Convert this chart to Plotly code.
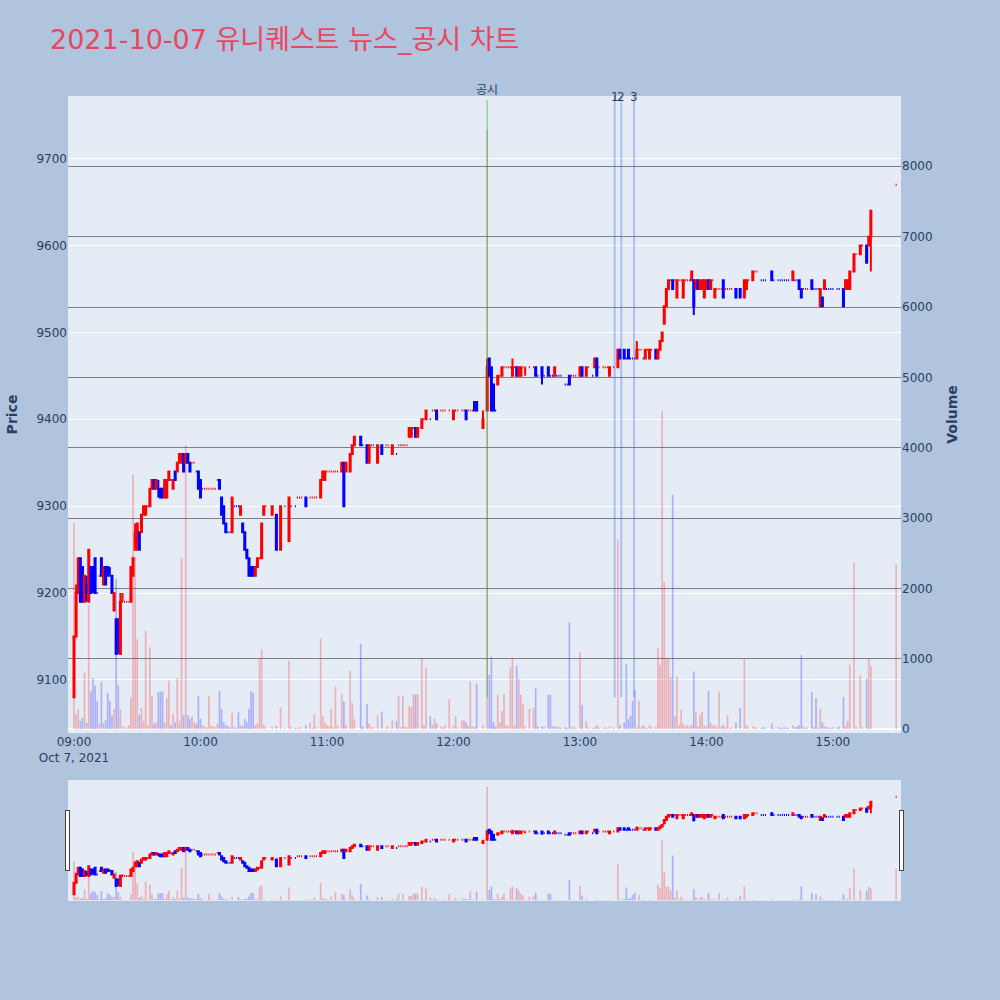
import plotly.graph_objects as go
from plotly.subplots import make_subplots

DATE = "2021-10-07"
TITLE = "2021-10-07 유니퀘스트 뉴스_공시 차트"

# ---------------- 1-minute candles ----------------
times = [
    # 09h
    "09:00","09:01","09:02","09:03","09:04","09:05","09:06","09:07","09:08","09:09",
    "09:10","09:11","09:12","09:13","09:14","09:15","09:16","09:17","09:18","09:19",
    "09:20","09:21","09:22","09:23","09:24","09:25","09:26","09:27","09:28","09:29",
    "09:30","09:31","09:32","09:33","09:34","09:35","09:36","09:37","09:38","09:39",
    "09:40","09:41","09:42","09:43","09:44","09:45","09:46","09:47","09:48","09:49",
    "09:50","09:51","09:52","09:53","09:54","09:55","09:56","09:57","09:58","09:59",
    # 10h
    "10:00","10:01","10:02","10:03","10:04","10:05","10:06","10:07","10:08","10:09",
    "10:10","10:11","10:12","10:13","10:14","10:15","10:16","10:17","10:18","10:19",
    "10:20","10:21","10:22","10:23","10:24","10:25","10:26","10:27","10:28","10:29",
    "10:30","10:31",
    "10:34","10:36","10:38","10:40","10:42","10:43","10:45","10:46","10:47","10:48",
    "10:50","10:52","10:53","10:54","10:55","10:57","10:58","10:59",
    # 11h
    "11:00","11:01","11:02","11:03","11:04","11:05","11:07","11:08","11:09","11:11",
    "11:12","11:13","11:16","11:17","11:19","11:20","11:21","11:22","11:24","11:26",
    "11:28","11:29","11:31","11:33","11:34","11:35","11:36","11:37","11:38","11:39",
    "11:40","11:41","11:42","11:43","11:45","11:46","11:47","11:49","11:50","11:51",
    "11:52","11:54","11:55","11:56","11:58",
    # 12h
    "12:00","12:01","12:02","12:04","12:05","12:06","12:07","12:08","12:09","12:10",
    "12:11","12:14","12:16","12:17","12:18","12:19","12:20","12:21","12:22","12:23",
    "12:24","12:25","12:26","12:27","12:28","12:29","12:30","12:31","12:32","12:33",
    "12:34","12:36","12:38","12:39","12:40","12:42","12:43","12:45","12:46","12:47",
    "12:48","12:49","12:50","12:51","12:53","12:54","12:55","12:56","12:57","12:58",
    # 13h
    "13:00","13:01","13:03","13:04","13:06","13:07","13:08","13:09","13:11","13:12",
    "13:13","13:14","13:16","13:18","13:19","13:21","13:22","13:23","13:24","13:25",
    "13:26","13:27","13:28","13:29","13:30","13:31","13:32","13:33","13:34","13:36",
    "13:37","13:38","13:39","13:40","13:41","13:42","13:43","13:44","13:45","13:46",
    "13:47","13:48","13:49","13:50","13:51","13:52","13:53","13:54","13:55","13:56",
    "13:57","13:58","13:59",
    # 14h
    "14:00","14:01","14:02","14:03","14:04","14:05","14:06","14:07","14:08","14:09",
    "14:10","14:11","14:12","14:14","14:16","14:18","14:19","14:20","14:22","14:23",
    "14:24","14:26","14:27","14:28","14:31","14:32","14:34","14:35","14:36","14:37",
    "14:38","14:39","14:41","14:42","14:43","14:44","14:45","14:46","14:47","14:48",
    "14:50","14:51","14:52","14:53","14:54","14:55","14:56","14:57","14:58","14:59",
    # 15h
    "15:00","15:02","15:03","15:05","15:06","15:07","15:08","15:10","15:11","15:13",
    "15:14","15:16","15:17","15:18","15:30",
]

opens = [
    # 09h
    9080,9150,9200,9240,9230,9190,9210,9190,9230,9230,
    9240,9200,9220,9240,9210,9230,9230,9220,9220,9180,
    9170,9170,9130,9190,9190,9190,9190,9190,9220,9250,
    9250,9270,9270,9290,9290,9300,9300,9320,9330,9320,
    9320,9320,9320,9310,9310,9330,9330,9320,9340,9340,
    9350,9350,9360,9350,9360,9350,9350,9350,9340,9340,
    # 10h
    9330,9320,9320,9320,9320,9320,9320,9320,9330,9330,
    9310,9300,9280,9270,9270,9270,9300,9300,9300,9290,
    9280,9270,9250,9240,9230,9230,9220,9230,9240,9240,
    9290,9300,
    9290,9290,9250,9300,9260,9300,9300,9310,9310,9310,
    9310,9310,9310,9310,9310,9310,9330,9330,
    # 11h
    9340,9340,9340,9340,9340,9340,9340,9350,9340,9340,
    9360,9370,9380,9370,9370,9350,9370,9370,9350,9370,
    9370,9370,9360,9360,9370,9370,9370,9370,9370,9380,
    9380,9390,9390,9380,9390,9400,9400,9400,9410,9410,
    9410,9410,9410,9410,9410,
    # 12h
    9400,9410,9410,9410,9410,9410,9410,9410,9410,9420,
    9420,9390,9410,9470,9460,9440,9410,9440,9450,9450,
    9460,9460,9460,9460,9450,9460,9460,9450,9450,9460,
    9460,9460,9460,9460,9450,9460,9450,9460,9450,9450,
    9450,9450,9450,9450,9440,9440,9450,9450,9450,9450,
    # 13h
    9450,9460,9450,9460,9450,9460,9470,9460,9460,9460,
    9460,9450,9460,9460,9480,9480,9470,9480,9470,9470,
    9470,9470,9480,9480,9470,9470,9480,9470,9480,9480,
    9470,9480,9490,9510,9530,9550,9560,9560,9560,9540,
    9560,9560,9540,9560,9560,9560,9560,9560,9550,9560,
    9550,9550,9540,
    # 14h
    9550,9560,9550,9560,9540,9550,9550,9550,9560,9550,
    9550,9550,9550,9550,9550,9540,9550,9560,9560,9570,
    9570,9560,9560,9560,9570,9560,9560,9560,9560,9560,
    9560,9560,9560,9560,9560,9560,9550,9550,9550,9550,
    9560,9550,9550,9550,9530,9540,9550,9550,9550,9550,
    # 15h
    9550,9550,9550,9550,9550,9550,9550,9570,9590,9590,
    9600,9600,9600,9610,9670,
]

highs = [
    # 09h
    9150,9210,9240,9240,9230,9220,9220,9250,9230,9230,
    9240,9200,9220,9240,9230,9230,9230,9230,9220,9200,
    9170,9170,9200,9200,9190,9190,9190,9230,9240,9280,
    9280,9270,9290,9300,9300,9300,9320,9330,9330,9330,
    9330,9320,9320,9330,9330,9340,9330,9330,9340,9350,
    9360,9360,9360,9360,9360,9350,9350,9350,9340,9340,
    # 10h
    9330,9320,9320,9320,9320,9320,9320,9320,9330,9330,
    9310,9300,9280,9270,9270,9310,9300,9300,9300,9300,
    9280,9270,9250,9240,9230,9230,9230,9240,9240,9280,
    9300,9300,
    9300,9290,9300,9300,9310,9300,9300,9310,9310,9310,
    9310,9310,9310,9310,9310,9330,9340,9340,
    # 11h
    9340,9340,9340,9340,9340,9340,9350,9350,9350,9360,
    9370,9380,9380,9370,9370,9370,9370,9370,9370,9370,
    9370,9370,9370,9360,9370,9370,9370,9370,9370,9390,
    9390,9390,9390,9390,9400,9400,9410,9400,9410,9410,
    9410,9410,9410,9410,9410,
    # 12h
    9410,9410,9410,9410,9410,9410,9410,9410,9410,9420,
    9420,9410,9470,9470,9460,9440,9410,9450,9450,9460,
    9460,9460,9460,9460,9470,9460,9460,9460,9460,9460,
    9460,9460,9460,9460,9450,9460,9450,9460,9450,9450,
    9460,9450,9450,9450,9440,9440,9450,9450,9450,9450,
    # 13h
    9460,9460,9460,9460,9450,9470,9470,9460,9460,9460,
    9460,9460,9460,9480,9480,9480,9470,9480,9470,9470,
    9470,9490,9480,9480,9470,9480,9480,9480,9480,9480,
    9480,9490,9500,9530,9550,9560,9560,9560,9560,9560,
    9560,9560,9560,9560,9560,9560,9570,9560,9560,9560,
    9560,9560,9560,
    # 14h
    9560,9560,9560,9560,9550,9550,9550,9550,9560,9550,
    9550,9550,9550,9550,9550,9560,9560,9560,9570,9570,
    9570,9560,9560,9560,9570,9560,9560,9560,9560,9560,
    9560,9560,9570,9560,9560,9560,9550,9550,9550,9550,
    9560,9550,9550,9550,9550,9540,9560,9550,9550,9550,
    # 15h
    9550,9550,9550,9550,9560,9560,9570,9590,9590,9600,
    9600,9600,9610,9640,9670,
]

lows = [
    # 09h
    9080,9150,9200,9190,9190,9190,9190,9190,9200,9200,
    9200,9200,9220,9220,9210,9210,9220,9220,9200,9180,
    9130,9130,9130,9190,9190,9190,9190,9190,9220,9250,
    9250,9250,9270,9290,9290,9300,9300,9320,9320,9320,
    9310,9310,9310,9310,9310,9330,9330,9320,9330,9340,
    9350,9350,9340,9350,9350,9340,9350,9350,9340,9320,
    # 10h
    9310,9320,9320,9320,9320,9320,9320,9320,9330,9320,
    9290,9280,9270,9270,9270,9270,9300,9300,9300,9290,
    9270,9250,9240,9220,9220,9220,9220,9230,9240,9240,
    9290,9300,
    9290,9250,9250,9300,9260,9300,9300,9310,9310,9310,
    9300,9310,9310,9310,9310,9310,9330,9330,
    # 11h
    9340,9340,9340,9340,9340,9340,9340,9300,9340,9340,
    9360,9370,9370,9370,9350,9350,9370,9370,9350,9360,
    9370,9370,9360,9360,9370,9370,9370,9370,9370,9380,
    9380,9390,9380,9380,9390,9400,9400,9400,9410,9410,
    9400,9410,9410,9410,9410,
    # 12h
    9400,9410,9410,9410,9410,9400,9410,9410,9410,9410,
    9410,9390,9410,9450,9410,9410,9410,9440,9450,9450,
    9460,9460,9460,9460,9450,9460,9450,9450,9450,9460,
    9450,9460,9460,9450,9450,9440,9450,9450,9450,9450,
    9450,9450,9450,9450,9440,9440,9440,9450,9450,9450,
    # 13h
    9450,9450,9450,9460,9450,9460,9450,9460,9460,9460,
    9460,9450,9460,9460,9470,9470,9470,9470,9470,9470,
    9470,9470,9480,9480,9470,9470,9480,9470,9480,9470,
    9470,9480,9490,9510,9530,9550,9560,9550,9560,9540,
    9560,9560,9540,9560,9560,9560,9560,9520,9550,9550,
    9550,9550,9540,
    # 14h
    9550,9550,9550,9560,9540,9550,9550,9550,9540,9550,
    9550,9550,9550,9540,9540,9540,9550,9560,9560,9570,
    9570,9560,9560,9560,9560,9560,9560,9560,9560,9560,
    9560,9560,9560,9560,9560,9550,9540,9550,9550,9550,
    9550,9550,9550,9550,9530,9530,9550,9550,9550,9550,
    # 15h
    9550,9550,9550,9530,9550,9550,9550,9570,9590,9590,
    9600,9580,9600,9570,9670,
]

closes = [
    # 09h
    9150,9200,9240,9190,9190,9220,9200,9250,9200,9210,
    9200,9200,9220,9220,9230,9210,9220,9220,9200,9200,
    9130,9150,9190,9190,9190,9190,9190,9230,9240,9270,
    9280,9250,9290,9300,9300,9300,9320,9330,9320,9330,
    9320,9310,9310,9330,9330,9340,9330,9330,9330,9350,
    9360,9360,9340,9360,9350,9340,9350,9350,9340,9320,
    # 10h
    9310,9320,9320,9320,9320,9320,9320,9320,9330,9320,
    9290,9280,9270,9270,9270,9310,9300,9300,9300,9300,
    9270,9250,9240,9220,9220,9220,9230,9240,9240,9280,
    9300,9300,
    9300,9250,9300,9300,9310,9300,9300,9310,9310,9310,
    9300,9310,9310,9310,9310,9330,9340,9340,
    # 11h
    9340,9340,9340,9340,9340,9340,9350,9300,9350,9360,
    9370,9380,9370,9370,9350,9370,9370,9370,9370,9360,
    9370,9370,9370,9360,9370,9370,9370,9370,9370,9390,
    9390,9390,9380,9390,9400,9400,9410,9400,9410,9410,
    9400,9410,9410,9410,9410,
    # 12h
    9410,9410,9410,9410,9410,9400,9410,9410,9410,9410,
    9410,9400,9460,9450,9410,9410,9410,9450,9450,9460,
    9460,9460,9460,9460,9460,9460,9450,9460,9460,9460,
    9460,9460,9460,9450,9450,9450,9450,9450,9450,9450,
    9460,9450,9450,9450,9440,9440,9440,9450,9450,9450,
    # 13h
    9460,9450,9460,9460,9450,9470,9450,9460,9460,9460,
    9460,9460,9460,9480,9470,9470,9470,9470,9470,9470,
    9470,9480,9480,9480,9470,9480,9480,9480,9480,9470,
    9480,9490,9500,9530,9550,9560,9560,9550,9560,9560,
    9560,9560,9560,9560,9560,9560,9570,9530,9560,9550,
    9560,9560,9560,
    # 14h
    9560,9550,9560,9560,9550,9550,9550,9550,9540,9550,
    9550,9550,9550,9540,9540,9560,9560,9560,9570,9570,
    9570,9560,9560,9560,9560,9560,9560,9560,9560,9560,
    9560,9560,9570,9560,9560,9550,9540,9550,9550,9550,
    9550,9550,9550,9550,9550,9530,9560,9550,9550,9550,
    # 15h
    9550,9550,9550,9530,9560,9560,9570,9590,9590,9600,
    9600,9580,9610,9640,9670,
]

volumes = [
    # 09h
    2930,214,290,120,160,808,90,1760,540,730,
    620,400,80,670,90,130,520,400,200,290,
    2140,620,280,40,30,20,60,450,3615,2450,
    1280,200,300,120,1400,60,1165,470,80,100,
    530,530,540,90,450,690,60,220,100,730,
    120,2430,200,4040,200,150,180,100,80,470,
    # 10h
    150,60,40,30,470,50,40,30,80,540,
    290,100,60,40,30,240,30,20,240,60,
    47,143,100,290,540,522,60,80,1000,1130,
    60,30,
    40,50,310,20,975,30,20,20,30,20,
    60,100,20,215,30,1285,190,100,
    # 11h
    60,40,290,30,600,50,500,395,60,832,
    370,143,1215,40,360,80,30,30,200,250,
    30,40,130,120,470,30,470,40,30,325,
    315,500,490,500,1015,60,870,185,60,150,
    80,40,30,60,430,
    # 12h
    50,190,30,120,130,100,50,680,40,30,
    650,60,8510,775,1030,100,40,490,100,260,
    500,60,40,880,1020,50,905,715,490,360,
    40,290,300,585,40,40,30,490,490,40,
    50,30,30,20,30,20,1515,30,40,20,
    # 13h
    1093,347,120,30,20,30,60,30,20,30,
    20,40,30,2697,60,100,930,140,190,404,
    555,30,400,30,60,30,20,60,30,30,
    1155,918,4518,2092,1010,1010,746,3330,190,746,
    60,270,80,40,60,40,60,822,250,40,
    200,250,60,
    # 14h
    40,547,90,50,60,30,537,40,60,30,
    200,20,30,100,307,995,60,30,40,30,
    20,20,30,20,80,20,30,20,20,30,
    20,20,60,30,40,60,1056,40,20,30,
    526,30,446,20,291,100,40,30,20,20,
    # 15h
    30,30,40,460,50,120,917,2370,40,766,
    30,718,1003,903,2344,
]

# ---------------- disclosure / news markers ----------------
disclosure_times = ["12:16"]
disclosure_labels = ["공시"]
news_times = ["13:16:30", "13:19:36", "13:25:40"]
news_labels = ["1", "2", "3"]

assert len(times) == len(opens) == len(highs) == len(lows) == len(closes) == len(volumes)

x = [f"{DATE} {t}" for t in times]

# volume colour follows candle direction (ties: compare with previous close)
vol_colors = []
prev_c, prev_up = None, True
for o, c in zip(opens, closes):
    if c > o:
        up = True
    elif c < o:
        up = False
    elif prev_c is not None and c != prev_c:
        up = c > prev_c
    else:
        up = prev_up
    vol_colors.append("rgba(255,0,0,0.25)" if up else "rgba(0,0,255,0.25)")
    prev_c, prev_up = c, up

fig = make_subplots(specs=[[{"secondary_y": True}]])

fig.add_trace(
    go.Candlestick(
        x=x, open=opens, high=highs, low=lows, close=closes,
        increasing=dict(line=dict(color="red", width=2), fillcolor="red"),
        decreasing=dict(line=dict(color="blue", width=2), fillcolor="blue"),
        name="Price", showlegend=False,
    ),
    secondary_y=False,
)
fig.add_trace(
    go.Bar(x=x, y=volumes, marker=dict(color=vol_colors, line=dict(width=0)),
           name="Volume", showlegend=False),
    secondary_y=True,
)

PRICE_RANGE = [9039, 9772]
VOLUME_RANGE = [-53, 8998]
LINE_BOTTOM = 9080

for t, lab in zip(disclosure_times, disclosure_labels):
    xt = f"{DATE} {t}"
    fig.add_shape(type="line", x0=xt, x1=xt, xref="x", yref="y",
                  y0=LINE_BOTTOM, y1=9767,
                  line=dict(color="rgba(0,200,0,0.42)", width=1.5))
    fig.add_annotation(x=xt, xref="x", y=1, yref="paper", text=lab,
                       showarrow=False, yanchor="middle", yshift=6,
                       font=dict(size=12, color="#2a3f5f"))

for t, lab in zip(news_times, news_labels):
    xt = f"{DATE} {t}"
    fig.add_shape(type="line", x0=xt, x1=xt, xref="x", yref="y",
                  y0=LINE_BOTTOM, y1=PRICE_RANGE[1],
                  line=dict(color="rgba(65,105,225,0.35)", width=2))
    fig.add_annotation(x=xt, xref="x", y=1, yref="paper", text=lab,
                       showarrow=False, yanchor="middle", yshift=-1,
                       font=dict(size=12, color="#2a3f5f"))

X_RANGE = [f"{DATE} 08:57:09", f"{DATE} 15:32:18"]

fig.update_layout(
    width=1000, height=1000,
    paper_bgcolor="#B0C4DE", plot_bgcolor="#E5ECF6",
    font=dict(family="DejaVu Sans, Noto Sans CJK KR, sans-serif", size=12, color="#2a3f5f"),
    title=dict(text=TITLE, x=0.05, xanchor="left", y=0.96, yanchor="middle",
               font=dict(size=27, color="#E8475F")),
    margin=dict(l=68, r=99, t=96, b=100),
    showlegend=False,
    bargap=0.2,
    xaxis=dict(type="date", range=X_RANGE, domain=[0, 1],
               rangeslider=dict(visible=True, thickness=0.15, bgcolor="#E5ECF6",
                                range=X_RANGE),
               showgrid=False),
)
fig.update_yaxes(title_text="<b>Price</b>", range=PRICE_RANGE, dtick=100,
                 gridcolor="white", automargin=False, secondary_y=False)
fig.update_yaxes(title_text="<b>Volume</b>", range=VOLUME_RANGE, dtick=1000,
                 showgrid=True, gridcolor="gray", gridwidth=1,
                 zeroline=True, zerolinecolor="white", zerolinewidth=2,
                 automargin=False, secondary_y=True)

fig.write_html("out.html", config={"displayModeBar": False},
               post_script="document.body.style.margin='0px';")
